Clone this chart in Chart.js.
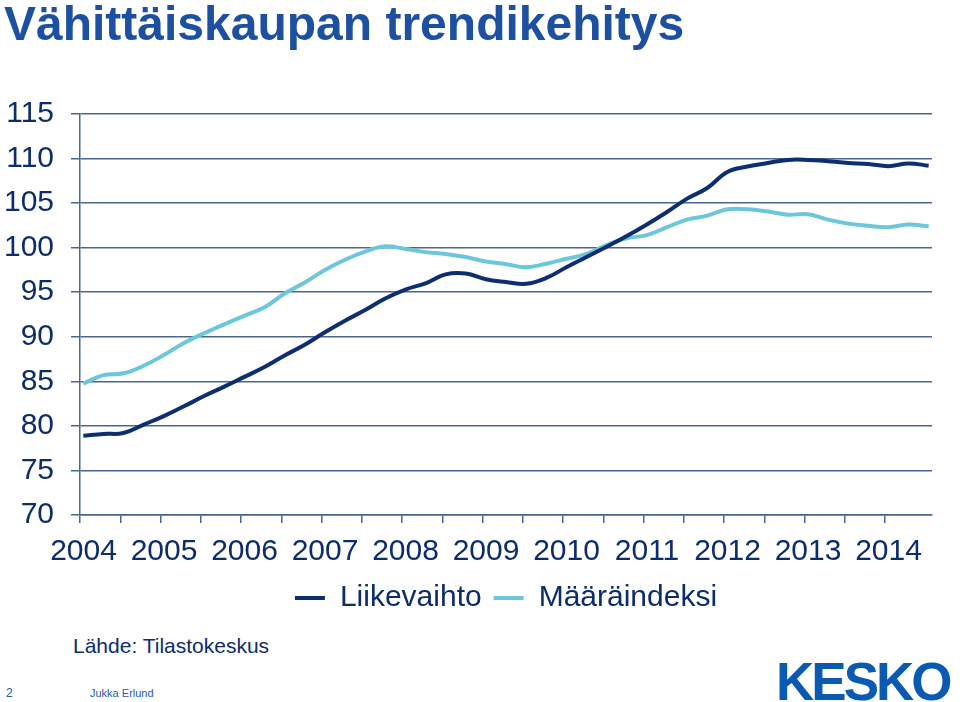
<!DOCTYPE html>
<html>
<head>
<meta charset="utf-8">
<script src="https://cdn.jsdelivr.net/npm/chart.js@4/dist/chart.umd.min.js"></script>
<style>
  body { margin: 0; background: #fff; font-family: 'Liberation Sans', Arial, sans-serif; }
  #page { position: relative; width: 960px; height: 702px; overflow: hidden; }
  #title { position: absolute; left: 4px; top: 0; font-size: 48px; line-height: 48px; font-weight: bold; color: #1e50a2; white-space: nowrap; }
  #chartBox { position: absolute; left: 0; top: 0; width: 960px; height: 623px; }
  .txt { position: absolute; white-space: nowrap; }
  #source { left: 73px; top: 635px; font-size: 21px; line-height: 21px; color: #0c2c6c; }
  #pageNo { left: 6px; top: 687px; font-size: 12px; line-height: 12px; color: #2a5aa5; }
  #author { left: 90px; top: 688px; font-size: 11px; line-height: 11px; color: #2a5aa5; }
  #logo { left: 776px; top: 655px; font-size: 53px; line-height: 53px; font-weight: bold; letter-spacing: -3px; color: #0a5ab4; }
</style>
</head>
<body>
<div id="page">
  <div id="chartBox"><canvas id="trend"></canvas></div>
  <div id="title">Vähittäiskaupan trendikehitys</div>
  <div class="txt" id="source">Lähde: Tilastokeskus</div>
  <div class="txt" id="pageNo">2</div>
  <div class="txt" id="author">Jukka Erlund</div>
  <div class="txt" id="logo">KESKO</div>
</div>
<script>
// months counted from Jan 2004, one reading per quarter
const startYear = 2004;
const months = [0, 3, 6, 9, 12, 15, 18, 21, 24, 27, 30, 33, 36, 39, 42, 45, 48, 51, 54, 57, 60,
  63, 66, 69, 72, 75, 78, 81, 84, 87, 90, 93, 96, 99, 102, 105, 108, 111, 114, 117, 120, 123, 126];
const liikevaihto = [78.9, 79.1, 79.2, 80.15, 81.1, 82.2, 83.35, 84.4, 85.5, 86.6, 87.9, 89.1, 90.5,
  91.8, 93.0, 94.3, 95.3, 96.0, 97.0, 97.1, 96.45, 96.15, 95.95, 96.6, 97.8, 98.95, 100.1, 101.3,
  102.6, 104.0, 105.5, 106.7, 108.5, 109.1, 109.5, 109.85, 109.85, 109.7, 109.5, 109.4, 109.15, 109.45, 109.2];
const maaraindeksi = [84.75, 85.7, 85.9, 86.75, 87.95, 89.3, 90.4, 91.4, 92.35, 93.3, 94.85, 96.1, 97.5,
  98.65, 99.55, 100.15, 99.85, 99.5, 99.3, 98.95, 98.45, 98.15, 97.8, 98.2, 98.75, 99.3, 100.3, 101.05,
  101.4, 102.3, 103.15, 103.6, 104.3, 104.3, 104.05, 103.7, 103.75, 103.15, 102.7, 102.45, 102.3, 102.6, 102.4];
const seriesNames = ['Liikevaihto', 'Määräindeksi'];

const navy = '#0c2c6c';
const gridColor = '#4a6690';
const fontFamily = "'Liberation Sans', Arial, sans-serif";

function points(values) {
    // each month sits in the middle of its category slot
    return months.map((m, i) => ({ x: m + 0.5, y: values[i] }));
}

const ctx = document.getElementById('trend').getContext('2d');

new Chart(ctx, {
    type: 'line',
    data: {
        datasets: [
            {
                label: seriesNames[0],
                data: points(liikevaihto),
                borderColor: '#0d2f72',
                backgroundColor: '#0d2f72',
                borderWidth: 4,
                pointRadius: 0,
                tension: 0.4
            },
            {
                label: seriesNames[1],
                data: points(maaraindeksi),
                borderColor: '#6cc6dc',
                backgroundColor: '#6cc6dc',
                borderWidth: 4,
                pointRadius: 0,
                tension: 0.4
            }
        ]
    },
    options: {
        responsive: true,
        maintainAspectRatio: false,
        animation: false,
        layout: { padding: { top: 114, right: 28, left: 0, bottom: 0 } },
        plugins: {
            tooltip: { enabled: false },
            legend: {
                position: 'bottom',
                fullSize: false,
                labels: {
                    boxWidth: 30,
                    boxHeight: 4,
                    padding: 12,
                    color: navy,
                    font: { family: fontFamily, size: 30 },
                    // plain line swatches, no stroke round them
                    generateLabels: (chart) => Chart.defaults.plugins.legend.labels.generateLabels(chart)
                        .map(l => Object.assign(l, { lineWidth: 0 }))
                }
            }
        },
        scales: {
            x: {
                type: 'linear',
                min: 0,
                max: 127,
                afterBuildTicks: (scale) => {
                    scale.ticks = scale.ticks.filter(t => t.value % 6 === 0);
                },
                afterFit: (scale) => { scale.height = 56; },
                ticks: {
                    stepSize: 6,
                    autoSkip: false,
                    maxRotation: 0,
                    labelOffset: 3.5,
                    padding: 11,
                    color: navy,
                    font: { family: fontFamily, size: 30 },
                    callback: (value) => value % 12 === 0 ? String(startYear + value / 12) : ''
                },
                grid: {
                    drawOnChartArea: false,
                    drawTicks: true,
                    tickLength: 8,
                    color: gridColor,
                    lineWidth: 1.5
                },
                border: { color: gridColor, width: 1.5 }
            },
            y: {
                min: 70,
                max: 115,
                afterFit: (scale) => { scale.width = 80; },
                ticks: {
                    stepSize: 5,
                    padding: 17,
                    color: navy,
                    font: { family: fontFamily, size: 30 }
                },
                grid: {
                    color: gridColor,
                    lineWidth: 1.5,
                    tickLength: 9
                },
                border: { color: gridColor, width: 1.5 }
            }
        }
    }
});
</script>
</body>
</html>
